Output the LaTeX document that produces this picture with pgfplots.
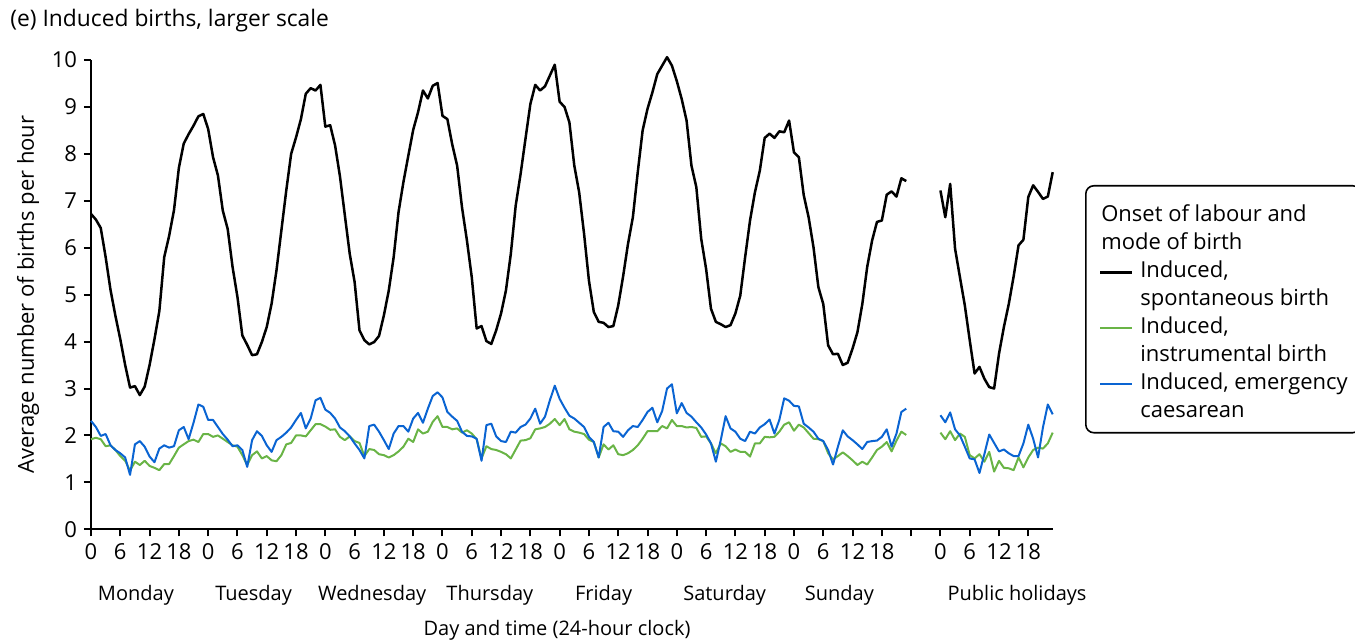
\documentclass[border=0pt]{standalone}
\usepackage{fontspec}
\setmainfont{Open Sans}
\usepackage{pgfplots}
\usepackage{pgfplotstable}
\pgfplotsset{compat=1.18}

\definecolor{instgreen}{RGB}{105,180,70}
\definecolor{emblue}{RGB}{10,100,210}

% h = hour index (Mon 0 .. Sun 167, public holidays 174..197), k = spontaneous, g = instrumental, b = emergency CS
\pgfplotstableread{
h k g b
0 6.72 1.92 2.31
1 6.60 1.95 2.18
2 6.42 1.92 1.99
3 5.80 1.77 2.03
4 5.10 1.79 1.79
5 4.55 1.69 1.69
6 4.05 1.56 1.62
7 3.50 1.46 1.53
8 3.02 1.25 1.16
9 3.05 1.44 1.81
10 2.86 1.37 1.88
11 3.04 1.46 1.76
12 3.50 1.35 1.55
13 4.05 1.31 1.43
14 4.65 1.26 1.72
15 5.80 1.39 1.79
16 6.25 1.39 1.74
17 6.80 1.56 1.77
18 7.70 1.74 2.11
19 8.22 1.81 2.18
20 8.42 1.88 1.92
21 8.60 1.91 2.27
22 8.80 1.86 2.66
23 8.85 2.03 2.61
24 8.53 2.03 2.33
25 7.93 1.97 2.33
26 7.54 2.00 2.18
27 6.79 1.93 2.03
28 6.40 1.86 1.91
29 5.59 1.79 1.77
30 4.95 1.76 1.79
31 4.13 1.58 1.69
32 3.93 1.37 1.33
33 3.71 1.58 1.90
34 3.73 1.66 2.09
35 3.99 1.51 1.99
36 4.31 1.56 1.79
37 4.81 1.47 1.65
38 5.52 1.45 1.90
39 6.37 1.58 1.97
40 7.22 1.81 2.06
41 8.00 1.84 2.17
42 8.35 2.00 2.33
43 8.74 2.00 2.48
44 9.28 1.98 2.15
45 9.40 2.11 2.36
46 9.35 2.24 2.75
47 9.47 2.24 2.80
48 8.58 2.19 2.55
49 8.61 2.12 2.48
50 8.18 2.13 2.36
51 7.52 1.97 2.17
52 6.69 1.90 2.09
53 5.87 1.98 1.98
54 5.27 1.88 1.83
55 4.24 1.84 1.69
56 4.03 1.56 1.51
57 3.94 1.71 2.20
58 3.99 1.69 2.23
59 4.12 1.60 2.08
60 4.56 1.58 1.90
61 5.09 1.53 1.71
62 5.80 1.58 2.04
63 6.76 1.66 2.20
64 7.40 1.76 2.20
65 7.96 1.93 2.08
66 8.51 1.86 2.36
67 8.89 2.13 2.48
68 9.35 2.04 2.27
69 9.18 2.08 2.57
70 9.45 2.29 2.84
71 9.51 2.41 2.92
72 8.81 2.18 2.81
73 8.74 2.18 2.50
74 8.20 2.13 2.40
75 7.75 2.15 2.31
76 6.86 2.06 2.08
77 6.16 2.11 1.99
78 5.37 2.04 1.98
79 4.28 1.92 1.93
80 4.33 1.51 1.46
81 4.01 1.77 2.22
82 3.95 1.71 2.25
83 4.24 1.69 1.98
84 4.60 1.65 1.88
85 5.09 1.60 1.86
86 5.87 1.51 2.08
87 6.90 1.70 2.06
88 7.57 1.89 2.18
89 8.32 1.90 2.23
90 9.06 1.94 2.36
91 9.47 2.13 2.57
92 9.35 2.15 2.25
93 9.44 2.18 2.40
94 9.67 2.25 2.75
95 9.90 2.35 3.06
96 9.11 2.22 2.78
97 9.00 2.35 2.59
98 8.67 2.13 2.42
99 7.75 2.08 2.36
100 7.18 2.06 2.27
101 6.30 2.03 2.18
102 5.30 1.91 1.97
103 4.63 1.86 1.86
104 4.42 1.53 1.53
105 4.40 1.81 2.18
106 4.31 1.70 2.27
107 4.33 1.79 2.09
108 4.77 1.60 2.08
109 5.39 1.58 1.97
110 6.08 1.62 2.11
111 6.65 1.69 2.20
112 7.61 1.79 2.18
113 8.50 1.93 2.33
114 8.96 2.09 2.50
115 9.31 2.09 2.59
116 9.70 2.09 2.28
117 9.88 2.20 2.52
118 10.06 2.15 3.00
119 9.88 2.33 3.09
120 9.55 2.20 2.47
121 9.17 2.20 2.69
122 8.71 2.17 2.48
123 7.75 2.18 2.40
124 7.29 2.16 2.28
125 6.19 1.97 2.17
126 5.55 1.98 2.02
127 4.70 1.83 1.83
128 4.42 1.62 1.44
129 4.37 1.83 1.90
130 4.31 1.77 2.41
131 4.35 1.65 2.15
132 4.60 1.70 2.08
133 4.98 1.65 1.93
134 5.80 1.65 1.88
135 6.58 1.55 2.08
136 7.18 1.83 2.04
137 7.64 1.83 2.17
138 8.34 1.97 2.24
139 8.43 1.96 2.34
140 8.34 1.97 2.04
141 8.48 2.08 2.33
142 8.46 2.23 2.79
143 8.71 2.28 2.74
144 8.03 2.10 2.63
145 7.93 2.23 2.62
146 7.12 2.17 2.25
147 6.65 2.05 2.17
148 6.01 1.93 2.08
149 5.16 1.92 1.93
150 4.80 1.88 1.88
151 3.92 1.62 1.69
152 3.73 1.49 1.38
153 3.74 1.56 1.76
154 3.50 1.64 2.11
155 3.55 1.56 1.98
156 3.85 1.47 1.90
157 4.20 1.37 1.81
158 4.80 1.44 1.71
159 5.59 1.38 1.86
160 6.15 1.53 1.88
161 6.55 1.69 1.89
162 6.58 1.76 1.97
163 7.13 1.86 2.13
164 7.20 1.66 1.76
165 7.09 1.89 2.04
166 7.48 2.08 2.50
167 7.42 2.01 2.57
168 nan nan nan
174 7.22 2.06 2.43
175 6.65 1.92 2.28
176 7.36 2.09 2.49
177 5.98 1.90 2.13
178 5.37 2.04 2.00
179 4.77 1.97 1.76
180 4.03 1.58 1.51
181 3.32 1.51 1.49
182 3.46 1.60 1.20
183 3.21 1.44 1.60
184 3.03 1.65 2.02
185 3.00 1.23 1.84
186 3.74 1.46 1.66
187 4.31 1.31 1.70
188 4.80 1.30 1.62
189 5.39 1.26 1.56
190 6.05 1.53 1.56
191 6.17 1.32 1.83
192 7.08 1.53 2.23
193 7.33 1.69 1.93
194 7.19 1.74 1.53
195 7.04 1.72 2.17
196 7.09 1.83 2.66
197 7.61 2.06 2.45
}\births

\begin{document}
\begin{tikzpicture}
\path[use as bounding box] (-45.5pt,-56.85pt) rectangle (632pt,264.65pt);
\begin{axis}[
  scale only axis,
  width=480.85pt, height=234.65pt,
  xmin=0, xmax=197, ymin=0, ymax=10,
  clip=false,
  unbounded coords=jump,
  axis x line*=bottom, axis y line*=left,
  axis line style={line width=1pt, black},
  tick align=outside,
  major tick length=3.5pt,
  tick style={line width=1pt, black},
  font=\fontsize{11}{13.2}\selectfont,
  ticklabel style={font=\fontsize{11}{13.2}\selectfont},
  /pgf/number format/assume math mode=true,
  ytick={0,1,...,10},
  xtick={0,6,12,18,24,30,36,42,48,54,60,66,72,78,84,90,96,102,108,114,120,126,132,138,144,150,156,162,168,174,180,186,192},
  xticklabels={0,6,12,18,0,6,12,18,0,6,12,18,0,6,12,18,0,6,12,18,0,6,12,18,0,6,12,18,{},0,6,12,18},
  extra x ticks={9.2,33.3,57.6,81.7,105,129.8,153.3,189.7},
  extra x tick labels={Monday,Tuesday,Wednesday,Thursday,Friday,Saturday,Sunday,Public holidays},
  extra x tick style={major tick length=0pt, tick label style={yshift=-24.5pt, font=\fontsize{10}{12}\selectfont}},
  title={(e) Induced births, larger scale},
  title style={at={(rel axis cs:-0.0842,1.045)}, anchor=base west, inner sep=0pt, font=\fontsize{11.4}{13.6}\selectfont},
  xlabel={Day and time (24-hour clock)},
  xlabel style={at={(rel axis cs:0.4846,-0.2146)}, anchor=center, font=\fontsize{10}{12}\selectfont},
  ylabel={Average number of births per hour},
  ylabel style={at={(rel axis cs:-0.0655,0.5)}, anchor=center, font=\fontsize{11}{13.2}\selectfont},
  legend image code/.code={
    \path (0pt,-6.875pt) (16pt,6.875pt);
    \draw[#1] (0pt,6.875pt) -- (16pt,6.875pt);
  },
  legend cell align=left,
  legend style={
    at={(rel axis cs:1.0336,0.7337)}, anchor=north west,
    draw=black, line width=0.8pt, rounded corners=4pt,
    inner xsep=6.5pt, inner ysep=3.5pt,
    column sep=3.5pt, row sep=0.5pt,
    nodes={inner sep=0pt, text depth=, align=left, font=\fontsize{11}{13.75}\selectfont},
  },
]
\addlegendimage{empty legend}
\addlegendentry{\hspace*{-19.5pt}\rule{0pt}{14.6pt}Onset of labour and\\\hspace*{-19.5pt}\strut mode of birth}

\addplot[black, line width=1.25pt, line join=round] table[x=h, y=k] {\births};
\addlegendentry{\strut Induced,\\\strut spontaneous birth}

\addplot[instgreen, line width=1pt, line join=round] table[x=h, y=g] {\births};
\addlegendentry{\strut Induced,\\\strut instrumental birth}

\addplot[emblue, line width=1pt, line join=round] table[x=h, y=b] {\births};
\addlegendentry{\strut Induced, emergency\\\strut caesarean}
\end{axis}
\end{tikzpicture}
\end{document}
